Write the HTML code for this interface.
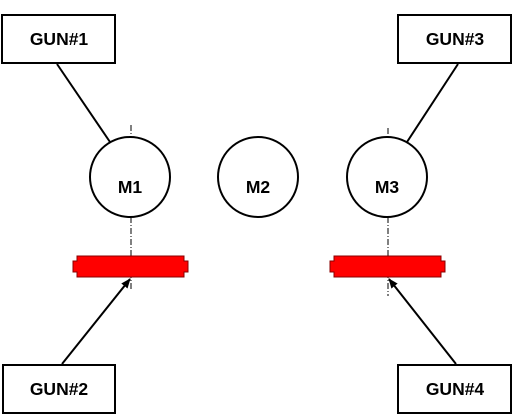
<!DOCTYPE html>
<html><head><style>body{margin:0;background:#fff}svg{display:block}</style></head><body>
<svg width="514" height="420" viewBox="0 0 514 420" xmlns="http://www.w3.org/2000/svg" font-family="Liberation Sans, sans-serif" font-weight="bold">
<defs><marker id="a" markerWidth="10" markerHeight="8" refX="9" refY="4" orient="auto" markerUnits="userSpaceOnUse"><path d="M0,0 L10,4 L0,8 z" fill="#000"/></marker></defs>
<g fill="#fff" stroke="#000" stroke-width="2">
<rect x="2" y="15" width="113" height="48"/>
<rect x="3" y="365" width="112" height="48"/>
<rect x="398" y="15" width="113" height="48"/>
<rect x="398" y="365" width="113" height="48"/>
<circle cx="130" cy="177" r="40"/>
<circle cx="258" cy="177" r="40"/>
<circle cx="387" cy="177" r="40"/>
</g>
<g stroke="#000" stroke-width="1" stroke-dasharray="6,2,1,2">
<line x1="131" y1="125" x2="131" y2="137"/><line x1="131" y1="217" x2="131" y2="290"/>
<line x1="388" y1="128" x2="388" y2="137"/><line x1="388" y1="217" x2="388" y2="296"/>
</g>
<g fill="#f00" stroke="#800" stroke-width="1">
<path d="M77,256 H184 V261 H188 V272 H184 V277 H77 V272 H73 V261 H77 Z"/>
<path d="M334,256 H441 V261 H445 V272 H441 V277 H334 V272 H330 V261 H334 Z"/>
</g>
<g stroke="#000" stroke-width="2">
<line x1="57" y1="64" x2="110" y2="142"/>
<line x1="458" y1="64" x2="407" y2="142"/>
<line x1="62" y1="364" x2="130" y2="279" marker-end="url(#a)"/>
<line x1="456" y1="364" x2="389" y2="279" marker-end="url(#a)"/>
</g>
<g font-size="17.5" text-anchor="middle" fill="#000">
<text x="59" y="45">GUN#1</text>
<text x="59" y="395">GUN#2</text>
<text x="455" y="45">GUN#3</text>
<text x="455" y="395">GUN#4</text>
<text x="130" y="193">M1</text>
<text x="258" y="193">M2</text>
<text x="387" y="193">M3</text>
</g>
</svg>
</body></html>
